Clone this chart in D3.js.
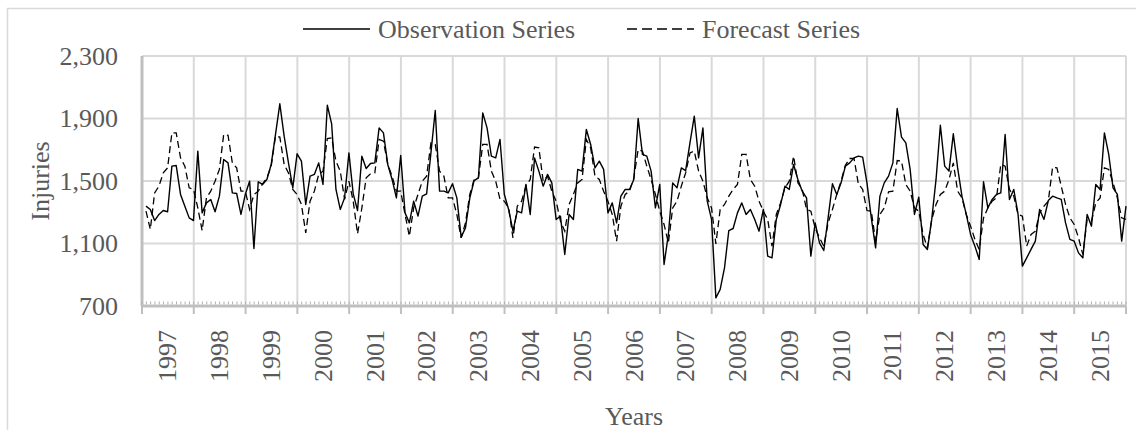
<!DOCTYPE html>
<html>
<head>
<meta charset="utf-8">
<script src="https://cdn.jsdelivr.net/npm/d3@7"></script>
<style>
  body { margin: 0; background: #fff; }
  svg text { font-family: "Liberation Serif", "Times New Roman", serif; fill: #595959; }
</style>
</head>
<body>
<div id="chart"></div>
<script>
// monthly values, Jan 1997 .. Dec 2015 (12 per line)
const observed = [
  1339, 1318, 1247, 1286, 1311, 1303, 1595, 1599, 1414, 1339, 1264, 1247,
  1691, 1296, 1360, 1382, 1303, 1403, 1638, 1616, 1424, 1420, 1286, 1414,
  1499, 1068, 1495, 1478, 1510, 1606, 1798, 1994, 1787, 1616, 1456, 1674,
  1627, 1350, 1531, 1542, 1616, 1478, 1985, 1866, 1446, 1318, 1392, 1680,
  1418, 1311, 1659, 1580, 1612, 1616, 1840, 1808, 1606, 1510, 1392, 1663,
  1296, 1232, 1371, 1275, 1403, 1418, 1680, 1951, 1435, 1435, 1424, 1482,
  1392, 1141, 1200, 1390, 1503, 1520, 1936, 1840, 1659, 1648, 1766, 1414,
  1318, 1179, 1307, 1296, 1478, 1286, 1648, 1563, 1467, 1542, 1488, 1254,
  1275, 1030, 1286, 1254, 1574, 1563, 1830, 1734, 1584, 1627, 1574, 1296,
  1360, 1232, 1403, 1446, 1446, 1510, 1900, 1670, 1659, 1563, 1328, 1478,
   966, 1158, 1488, 1456, 1584, 1567, 1744, 1915, 1648, 1840, 1371, 1254,
   752,  806,  944, 1183, 1196, 1296, 1360, 1286, 1318, 1254, 1179, 1318,
  1019, 1008, 1254, 1350, 1467, 1446, 1606, 1510, 1435, 1392, 1019, 1232,
  1104, 1055, 1264, 1482, 1414, 1488, 1595, 1616, 1648, 1659, 1653, 1488,
  1264, 1072, 1403, 1488, 1531, 1616, 1964, 1781, 1744, 1574, 1286, 1397,
  1094, 1062, 1254, 1510, 1857, 1595, 1563, 1802, 1584, 1403, 1286, 1158,
  1083,  998, 1495, 1328, 1382, 1414, 1424, 1798, 1382, 1446, 1286,  955,
  1008, 1062, 1115, 1318, 1254, 1375, 1403, 1392, 1382, 1232, 1126, 1115,
  1040, 1008, 1286, 1211, 1478, 1446, 1808, 1670, 1456, 1414, 1115, 1339
];
const forecast = [
  1307, 1190, 1424, 1467, 1552, 1584, 1808, 1808, 1648, 1595, 1456, 1446,
  1328, 1183, 1392, 1435, 1499, 1574, 1798, 1793, 1616, 1584, 1435, 1435,
  1318, 1414, 1435, 1482, 1520, 1595, 1787, 1781, 1606, 1552, 1446, 1414,
  1350, 1168, 1371, 1435, 1542, 1563, 1772, 1776, 1627, 1563, 1382, 1499,
  1371, 1162, 1328, 1520, 1546, 1552, 1766, 1755, 1606, 1531, 1435, 1435,
  1286, 1147, 1328, 1414, 1499, 1531, 1744, 1734, 1563, 1531, 1392, 1392,
  1286, 1136, 1232, 1414, 1510, 1520, 1734, 1734, 1563, 1499, 1382, 1371,
  1328, 1136, 1339, 1371, 1467, 1510, 1717, 1712, 1499, 1531, 1435, 1371,
  1243, 1179, 1350, 1414, 1488, 1510, 1766, 1712, 1531, 1510, 1435, 1371,
  1286, 1115, 1339, 1414, 1435, 1520, 1702, 1691, 1595, 1510, 1414, 1307,
  1222, 1104, 1328, 1371, 1467, 1552, 1680, 1691, 1563, 1499, 1392, 1328,
  1098, 1318, 1350, 1403, 1446, 1478, 1670, 1670, 1510, 1467, 1371, 1307,
  1254, 1083, 1286, 1360, 1456, 1499, 1659, 1488, 1446, 1318, 1307, 1200,
  1136, 1083, 1232, 1318, 1414, 1499, 1601, 1644, 1644, 1482, 1446, 1311,
  1307, 1115, 1286, 1328, 1431, 1435, 1631, 1627, 1478, 1435, 1328, 1307,
  1158, 1072, 1254, 1350, 1414, 1435, 1510, 1616, 1435, 1392, 1286, 1211,
  1126, 1062, 1264, 1328, 1371, 1392, 1606, 1595, 1446, 1403, 1286, 1275,
  1083, 1158, 1179, 1296, 1339, 1371, 1589, 1584, 1467, 1350, 1264, 1222,
  1136, 1030, 1254, 1243, 1360, 1392, 1584, 1574, 1488, 1392, 1264, 1254
];
const years = d3.range(1997, 2016).map(String);
const yTicks = [700, 1100, 1500, 1900, 2300];
const seriesNames = ["Observation Series", "Forecast Series"];

const W = 1136, H = 430;
const margin = { top: 56, right: 10, bottom: 124, left: 142 };
const plotW = W - margin.left - margin.right;
const plotH = H - margin.top - margin.bottom;

const svg = d3.select("#chart").append("svg")
  .attr("width", W)
  .attr("height", H);

// chart border
svg.append("rect")
  .attr("x", 7.5).attr("y", 8.5)
  .attr("width", W + 20).attr("height", H + 20)
  .attr("fill", "none")
  .attr("stroke", "#d9d9d9")
  .attr("stroke-width", 1.5);

const g = svg.append("g").attr("transform", `translate(${margin.left},${margin.top})`);

const yearBand = d3.scaleBand().domain(years).range([0, plotW]);
const x = d3.scaleLinear().domain([0, observed.length - 1]).range([4, plotW]);
const y = d3.scaleLinear().domain([700, 2300]).range([plotH, 0]);

// horizontal gridlines
g.append("g")
  .selectAll("line")
  .data(yTicks.filter(d => d > 700))
  .enter().append("line")
    .attr("x1", 0).attr("x2", plotW)
    .attr("y1", d => y(d)).attr("y2", d => y(d))
    .attr("stroke", "#d9d9d9")
    .attr("stroke-width", 2);

// vertical gridlines at year boundaries
g.append("g")
  .selectAll("line")
  .data(d3.range(1, years.length + 1))
  .enter().append("line")
    .attr("x1", d => yearBand.step() * d)
    .attr("x2", d => yearBand.step() * d)
    .attr("y1", 0).attr("y2", plotH)
    .attr("stroke", "#d9d9d9")
    .attr("stroke-width", 2);

// y axis labels
const yAxis = g.append("g")
  .call(d3.axisLeft(y).tickValues(yTicks).tickFormat(d3.format(",")).tickSize(0).tickPadding(24));
yAxis.select(".domain").remove();
yAxis.selectAll("text")
  .style("font-size", "26px")
  .style("font-family", "'Liberation Serif', serif")
  .attr("fill", "#595959");

// left axis line
g.append("line")
  .attr("x1", 0).attr("x2", 0)
  .attr("y1", 0).attr("y2", plotH)
  .attr("stroke", "#bfbfbf")
  .attr("stroke-width", 3);

// minor (monthly) ticks
const monthStep = plotW / observed.length;
g.append("g")
  .selectAll("line")
  .data(d3.range(observed.length + 1))
  .enter().append("line")
    .attr("x1", d => d * monthStep).attr("x2", d => d * monthStep)
    .attr("y1", plotH - 4.5).attr("y2", plotH - 1.5)
    .attr("stroke", "#b0b0b0")
    .attr("stroke-width", 1);

// bottom axis line + major ticks
g.append("line")
  .attr("x1", 0).attr("x2", plotW)
  .attr("y1", plotH).attr("y2", plotH)
  .attr("stroke", "#bfbfbf")
  .attr("stroke-width", 3);
g.append("g")
  .selectAll("line")
  .data(d3.range(years.length + 1))
  .enter().append("line")
    .attr("x1", d => d * yearBand.step()).attr("x2", d => d * yearBand.step())
    .attr("y1", plotH).attr("y2", plotH + 8)
    .attr("stroke", "#bfbfbf")
    .attr("stroke-width", 2);

// year labels
g.append("g")
  .selectAll("text")
  .data(years)
  .enter().append("text")
    .attr("transform", d => `translate(${yearBand(d) + yearBand.bandwidth() / 2},${plotH + 24}) rotate(-90)`)
    .attr("text-anchor", "end")
    .attr("dominant-baseline", "central")
    .style("font-size", "26px")
    .text(d => d);

// lines
const line = d3.line()
  .x((d, i) => x(i))
  .y(d => y(d));

g.append("path")
  .datum(forecast)
  .attr("fill", "none")
  .attr("stroke", "#000")
  .attr("stroke-width", 1.3)
  .attr("stroke-dasharray", "7,4")
  .attr("d", line);

g.append("path")
  .datum(observed)
  .attr("fill", "none")
  .attr("stroke", "#000")
  .attr("stroke-width", 1.4)
  .attr("stroke-linejoin", "round")
  .attr("d", line);

// axis titles
svg.append("text")
  .attr("transform", `translate(40,${margin.top + plotH / 2}) rotate(-90)`)
  .attr("text-anchor", "middle")
  .attr("dominant-baseline", "central")
  .style("font-size", "26px")
  .text("Injuries");

svg.append("text")
  .attr("x", margin.left + plotW / 2)
  .attr("y", 416)
  .attr("text-anchor", "middle")
  .attr("dominant-baseline", "central")
  .style("font-size", "26px")
  .text("Years");

// legend
const legend = svg.append("g");
const legendItems = [
  { name: seriesNames[0], x0: 303, dash: null },
  { name: seriesNames[1], x0: 627, dash: "10,5" }
];
legendItems.forEach(d => {
  legend.append("line")
    .attr("x1", d.x0).attr("x2", d.x0 + 67)
    .attr("y1", 29).attr("y2", 29)
    .attr("stroke", "#000")
    .attr("stroke-width", 1.5)
    .attr("stroke-dasharray", d.dash);
  legend.append("text")
    .attr("x", d.x0 + 75)
    .attr("y", 29)
    .attr("dominant-baseline", "central")
    .style("font-size", "26px")
    .text(d.name);
});
</script>
</body>
</html>
